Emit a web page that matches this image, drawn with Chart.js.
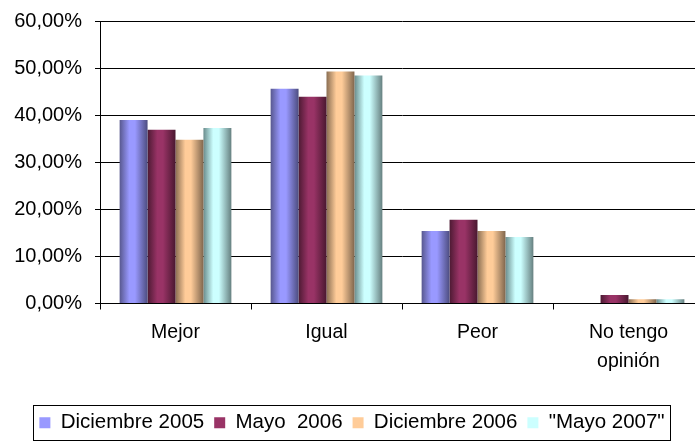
<!DOCTYPE html>
<html>
<head>
<meta charset="utf-8">
<script src="https://cdn.jsdelivr.net/npm/chart.js@4.4.0/dist/chart.umd.min.js"></script>
<style>
  html, body { margin: 0; padding: 0; background: #fff; overflow: hidden; }
  canvas { display: block; }
</style>
</head>
<body>
<canvas id="chart" width="705" height="443" style="width:705px;height:443px"></canvas>
<script>
const categories = ['Mejor', 'Igual', 'Peor', ['No tengo', 'opinión']];
const seriesNames = ['Diciembre 2005', 'Mayo  2006', 'Diciembre 2006', '"Mayo 2007"'];
const dic2005 = [39.0, 45.6, 15.4, 0];
const mayo2006 = [36.9, 43.9, 17.8, 1.8];
const dic2006 = [34.8, 49.3, 15.4, 0.9];
const mayo2007 = [37.3, 48.4, 14.1, 0.9];
const yTicks = [0, 10, 20, 30, 40, 50, 60];

// base colour, left edge, right edge of the shaded "cylinder" look
const shades = [
    ['#9999ff', '#58588f', '#4d4d80'],
    ['#993366', '#4d1a33', '#4a1830'],
    ['#ffcc99', '#8a6e52', '#80664d'],
    ['#ccffff', '#6a8c8c', '#668080']
];

const family = 'Liberation Sans, Arial, sans-serif';

function pct(v) {
    return v.toFixed(2).replace('.', ',') + '%';
}

function makeSet(label, data, i) {
    return {
        label: label,
        data: data,
        backgroundColor: () => shades[i][0],
        borderWidth: 0,
        categoryPercentage: 0.74,
        barPercentage: 1.0
    };
}

// paint every bar with a horizontal gradient from its own position
const shading = {
    id: 'shading',
    beforeDatasetsDraw(chart) {
        const c = chart.ctx;
        chart.data.datasets.forEach((ds, i) => {
            chart.getDatasetMeta(i).data.forEach(bar => {
                const l = bar.x - bar.width / 2, r = bar.x + bar.width / 2;
                const g = c.createLinearGradient(l, 0, r, 0);
                g.addColorStop(0, shades[i][1]);
                g.addColorStop(0.35, shades[i][0]);
                g.addColorStop(0.55, shades[i][0]);
                g.addColorStop(1, shades[i][2]);
                bar.options.backgroundColor = g;
            });
        });
    }
};

// frame round the legend
const legendFrame = {
    id: 'legendFrame',
    afterDraw(chart) {
        const boxes = chart.legend.legendHitBoxes;
        if (!boxes || !boxes.length) return;
        const left = Math.min(...boxes.map(b => b.left)) - 6;
        const right = Math.max(...boxes.map(b => b.left + b.width)) + 6;
        const mid = boxes[0].top + boxes[0].height / 2;
        const c = chart.ctx;
        c.save();
        c.strokeStyle = '#000';
        c.lineWidth = 1;
        c.strokeRect(Math.round(left) + 0.5, Math.round(mid - 18) + 0.5, Math.round(right - left), 35);
        c.restore();
    }
};

new Chart(document.getElementById('chart'), {
    type: 'bar',
    data: {
        labels: categories,
        datasets: [
            makeSet(seriesNames[0], dic2005, 0),
            makeSet(seriesNames[1], mayo2006, 1),
            makeSet(seriesNames[2], dic2006, 2),
            makeSet(seriesNames[3], mayo2007, 3)
        ]
    },
    options: {
        responsive: false,
        animation: false,
        layout: { padding: { top: 21, right: 1, bottom: 0, left: 0 } },
        plugins: {
            tooltip: { enabled: false },
            legend: {
                position: 'bottom',
                labels: {
                    color: '#000',
                    font: { family: family, size: 20.5 },
                    boxWidth: 11,
                    boxHeight: 11,
                    padding: 10
                }
            }
        },
        scales: {
            y: {
                min: 0,
                max: 60,
                afterBuildTicks(axis) {
                    axis.ticks = yTicks.map(v => ({ value: v }));
                },
                afterFit(axis) {
                    axis.width = 100;
                    axis.paddingTop = 0;
                    axis.paddingBottom = 0;
                },
                ticks: {
                    color: '#000',
                    font: { family: family, size: 20 },
                    padding: 13,
                    callback: v => pct(v)
                },
                grid: { color: '#000', tickLength: 5, lineWidth: 1 },
                border: { color: '#000' }
            },
            x: {
                afterFit(axis) {
                    axis.height = 99;
                },
                ticks: {
                    color: '#000',
                    font: { family: family, size: 19.5, lineHeight: 1.46 },
                    padding: 9,
                    maxRotation: 0
                },
                grid: { drawOnChartArea: false, color: '#000', tickLength: 6, offset: true },
                border: { color: '#000' }
            }
        }
    },
    plugins: [shading, legendFrame]
});
</script>
</body>
</html>
